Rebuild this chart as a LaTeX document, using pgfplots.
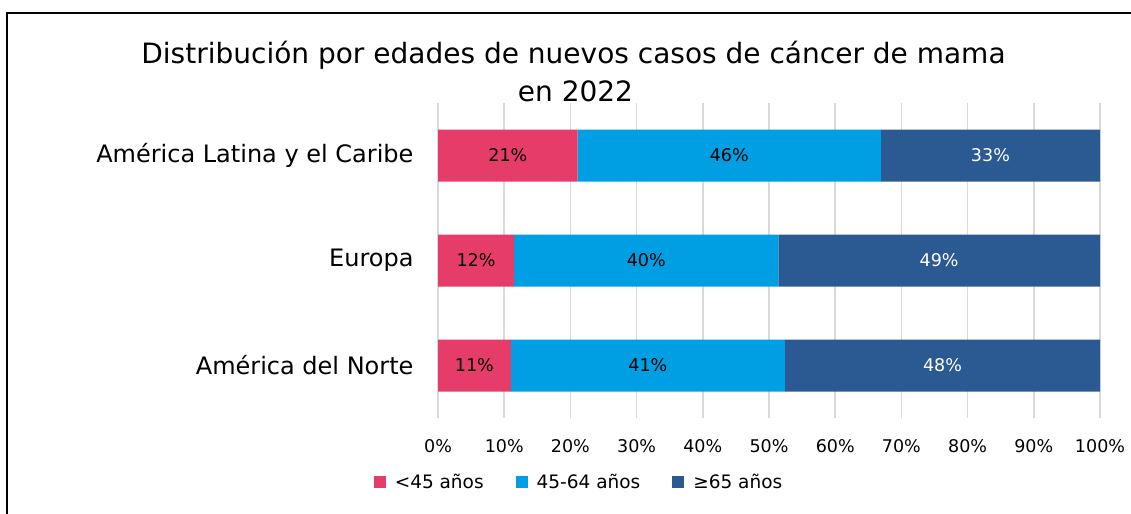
\documentclass[border=0pt]{standalone}
\usepackage{pgfplots}
\pgfplotsset{compat=1.18}
\usepackage{fontspec}
\setmainfont{DejaVu Sans}
\definecolor{cpink}{HTML}{E63C6A}
\definecolor{cblue}{HTML}{009FE3}
\definecolor{cdark}{HTML}{2B5A93}
\definecolor{cgrid}{HTML}{D9D9D9}
\begin{document}
\begin{tikzpicture}
\path[use as bounding box] (0,0) rectangle (1131bp,-514bp);
\draw[line width=1.5bp] (7bp,-514bp) -- (7bp,-13bp) -- (1131bp,-13bp);
\node[anchor=base, font=\fontsize{28bp}{30bp}\selectfont, inner sep=0pt] at (573.5bp,-63bp) {Distribución por edades de nuevos casos de cáncer de mama};
\node[anchor=base, font=\fontsize{28bp}{30bp}\selectfont, inner sep=0pt] at (575.5bp,-101bp) {en 2022};
\begin{axis}[
  at={(438bp,-418bp)}, anchor=south west,
  scale only axis, width=662bp, height=315bp,
  xbar stacked, bar width=52bp,
  xmin=0, xmax=100, ymin=0.5, ymax=3.5, y dir=reverse,
  ytick={1,2,3},
  yticklabels={América Latina y el Caribe, Europa, América del Norte},
  xtick={0,10,...,100},
  xticklabel={\pgfmathprintnumber{\tick}\%},
  /pgf/number format/assume math mode=true,
  xmajorgrids, major grid style={cgrid, line width=1.5bp},
  axis line style={draw=none},
  major tick length=0pt,
  xticklabel style={font=\fontsize{17.5bp}{20bp}\selectfont, yshift=-18bp},
  yticklabel style={font=\fontsize{24bp}{26bp}\selectfont, xshift=-21bp},
  point meta=explicit symbolic,
  nodes near coords={\pgfplotspointmeta\%},
  every node near coord/.append style={font=\fontsize{17.5bp}{20bp}\selectfont},
  legend columns=3,
  legend style={at={(0.213,-0.203)}, anchor=center, draw=none, fill=none,
    font=\fontsize{18.5bp}{20bp}\selectfont,
    /tikz/every odd column/.append style={column sep=7bp},
    /tikz/every even column/.append style={column sep=30bp}},
  legend image code/.code={\fill[#1, draw=none] (0bp,-6bp) rectangle (12bp,6bp);},
]
\addplot[fill=cpink, draw=none, nodes near coords style={text=black}] coordinates {(21.1,1) [21] (11.5,2) [12] (11.0,3) [11]};
\addplot[fill=cblue, draw=none, nodes near coords style={text=black}] coordinates {(45.8,1) [46] (39.9,2) [40] (41.4,3) [41]};
\addplot[fill=cdark, draw=none, nodes near coords style={text=white}] coordinates {(33.1,1) [33] (48.6,2) [49] (47.6,3) [48]};
\legend{<45 años, 45-64 años, ≥65 años}
\end{axis}
\end{tikzpicture}
\end{document}
